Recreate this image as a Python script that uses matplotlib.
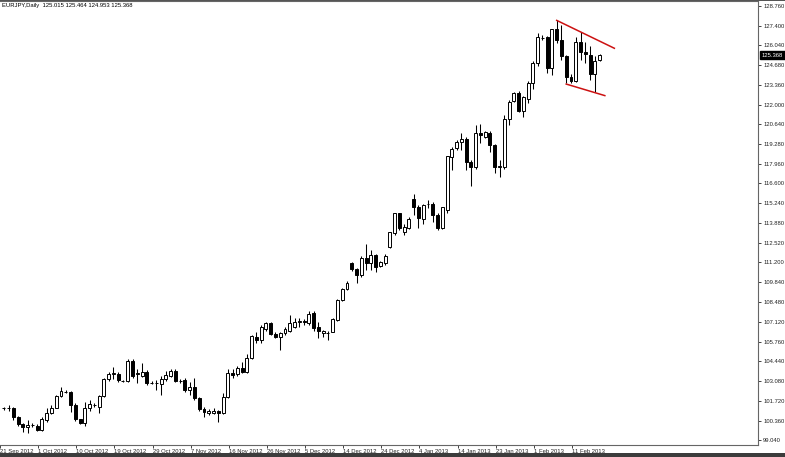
#!/usr/bin/env python3

import matplotlib
matplotlib.use("Agg")
import matplotlib.pyplot as plt
import matplotlib.transforms as mtrans
from matplotlib.patches import Rectangle
import numpy as np

# EURJPY daily bars (left to right)
opens = [101.20, 101.22, 101.21, 100.60, 100.13, 99.91, 100.04, 100.00, 99.72, 100.41,
         100.87, 101.25, 102.07, 102.32, 102.30, 101.43, 100.46, 100.22, 101.25, 101.40,
         101.32, 102.07, 103.21, 103.58, 103.54, 103.10, 103.08, 104.47, 103.58, 103.42,
         103.71, 102.97, 102.91, 102.85, 103.19, 103.44, 103.78, 103.10, 103.15, 102.46,
         102.69, 101.89, 101.16, 100.87, 100.91, 101.02, 100.91, 101.96, 103.60, 103.54,
         103.95, 103.71, 104.63, 106.11, 105.88, 106.62, 107.03, 106.28, 106.11, 106.35,
         106.50, 106.80, 107.13, 107.15, 107.03, 107.71, 106.80, 106.38, 106.37, 106.45,
         107.25, 108.62, 109.35, 111.13, 110.72, 110.33, 111.51, 111.17, 111.70, 110.97,
         111.17, 112.27, 113.23, 114.55, 113.30, 113.57, 115.54, 115.02, 114.17, 115.16,
         115.20, 114.44, 113.57, 114.78, 118.43, 119.01, 119.46, 119.62, 118.09, 117.75,
         120.07, 119.80, 120.07, 119.23, 117.74, 117.75, 120.98, 122.26, 122.77, 121.58,
         122.36, 123.45, 124.82, 126.56, 126.60, 124.48, 127.19, 126.39, 125.32, 123.87,
         123.63, 126.28, 125.60, 125.42, 124.12, 125.015]
highs = [101.30, 101.40, 101.30, 100.70, 100.20, 100.41, 100.20, 100.10, 100.60, 101.20,
         101.40, 102.12, 102.69, 102.45, 102.40, 101.60, 100.50, 101.66, 101.80, 101.60,
         102.12, 103.30, 103.70, 104.06, 103.70, 103.15, 104.55, 104.55, 103.90, 104.33,
         103.80, 103.10, 103.15, 103.42, 103.76, 103.88, 103.90, 103.20, 103.30, 103.03,
         103.26, 102.00, 101.30, 101.15, 101.20, 101.10, 102.28, 103.88, 103.90, 104.10,
         104.40, 104.90, 106.20, 106.45, 106.90, 107.10, 107.10, 106.40, 106.45, 106.80,
         107.60, 107.40, 107.37, 107.30, 107.87, 107.85, 107.14, 106.60, 106.50, 107.40,
         108.70, 109.45, 109.90, 111.20, 110.80, 111.60, 112.43, 112.04, 111.80, 111.30,
         111.80, 113.30, 114.60, 114.60, 113.80, 114.30, 115.88, 115.10, 115.20, 115.47,
         115.30, 114.60, 115.00, 118.50, 119.10, 119.60, 120.03, 119.80, 118.20, 120.60,
         120.67, 120.20, 120.20, 119.30, 118.20, 121.30, 122.30, 122.86, 122.90, 122.60,
         123.60, 125.00, 126.91, 126.75, 126.70, 127.20, 127.76, 127.45, 125.40, 124.10,
         126.62, 126.94, 126.28, 126.00, 125.32, 125.464]
lows = [101.10, 101.05, 100.41, 100.00, 99.61, 99.54, 99.90, 99.65, 99.65, 100.30,
        100.80, 101.20, 101.95, 102.25, 100.98, 100.35, 100.10, 100.00, 101.00, 101.30,
        100.91, 102.00, 103.10, 103.19, 103.00, 103.00, 103.00, 103.30, 102.92, 103.35,
        102.80, 102.85, 102.46, 102.12, 103.10, 103.35, 103.00, 102.95, 102.30, 102.12,
        101.80, 101.00, 100.64, 100.75, 100.80, 100.29, 100.80, 101.90, 103.30, 103.40,
        103.60, 103.60, 104.60, 105.66, 105.66, 106.50, 106.20, 106.00, 105.20, 106.20,
        106.40, 106.70, 106.80, 106.90, 106.90, 106.50, 106.00, 106.11, 105.88, 106.40,
        107.20, 108.55, 109.30, 110.60, 109.80, 110.20, 110.68, 110.68, 110.56, 110.90,
        111.00, 112.20, 113.10, 113.40, 113.07, 113.50, 114.44, 113.57, 113.80, 114.92,
        113.98, 113.40, 113.50, 114.60, 117.52, 118.90, 118.89, 117.52, 116.42, 117.60,
        119.37, 119.70, 118.78, 117.29, 117.02, 117.60, 120.60, 122.20, 121.50, 121.17,
        122.10, 123.04, 124.64, 126.42, 124.14, 124.02, 126.24, 125.05, 123.45, 123.45,
        123.54, 125.02, 124.85, 123.68, 122.88, 124.953]
closes = [101.22, 101.24, 100.64, 100.13, 99.91, 100.07, 100.06, 99.72, 100.46, 100.91,
          101.25, 102.07, 102.39, 102.35, 101.43, 100.46, 100.22, 101.25, 101.48, 101.42,
          102.07, 103.21, 103.54, 103.62, 103.15, 103.06, 104.47, 103.44, 103.62, 103.67,
          102.92, 102.95, 102.93, 103.19, 103.49, 103.78, 103.10, 103.06, 102.46, 102.69,
          101.89, 101.14, 100.93, 101.02, 101.05, 100.87, 101.96, 103.60, 103.49, 103.95,
          103.71, 104.63, 106.16, 105.88, 106.80, 107.03, 106.28, 106.11, 106.35, 106.62,
          107.07, 107.14, 107.15, 107.13, 107.66, 106.68, 106.53, 106.53, 106.39, 107.30,
          108.62, 109.35, 109.81, 110.72, 110.33, 111.51, 111.13, 111.70, 110.90, 111.20,
          111.65, 113.25, 114.55, 113.52, 113.64, 114.17, 114.97, 114.22, 115.13, 115.18,
          114.44, 113.57, 114.97, 118.48, 118.94, 119.46, 119.62, 118.09, 117.75, 120.07,
          119.91, 120.10, 119.23, 117.75, 117.76, 120.98, 122.15, 122.77, 121.58, 122.49,
          123.50, 124.86, 126.64, 126.58, 124.48, 127.14, 126.39, 125.32, 123.88, 123.63,
          126.28, 125.60, 125.44, 124.12, 124.99, 125.368]

date_labels = ["21 Sep 2012", "1 Oct 2012", "10 Oct 2012", "19 Oct 2012", "29 Oct 2012",
               "7 Nov 2012", "16 Nov 2012", "26 Nov 2012", "5 Dec 2012", "14 Dec 2012",
               "24 Dec 2012", "4 Jan 2013", "14 Jan 2013", "23 Jan 2013", "1 Feb 2013",
               "11 Feb 2013"]
price_ticks = [99.04, 100.36, 101.72, 103.08, 104.44, 105.76, 107.12, 108.48, 109.84,
               111.20, 112.52, 113.88, 115.24, 116.60, 117.96, 119.28, 120.64, 122.00,
               123.36, 124.68, 126.04, 127.40, 128.76]

# hand-drawn channel (bar index, price)
upper_line_x = [116, 128.1]
upper_line_y = [127.76, 125.85]
lower_line_x = [118, 126.1]
lower_line_y = [123.40, 122.61]

W, H = 785, 457
fig = plt.figure(figsize=(W / 100, H / 100), dpi=100)
fig.patch.set_facecolor("white")
ax = fig.add_axes([0, 12.5 / H, 757.5 / W, 444.0 / H])

o = np.array(opens)
h = np.array(highs)
l = np.array(lows)
c = np.array(closes)
idx = np.arange(len(o))

ax.vlines(idx, l, h, color="black", linewidth=0.75, zorder=2)
bull = c >= o
body_lo = np.minimum(o, c)
body_h = np.maximum(np.abs(c - o), 0.015)
ax.bar(idx[bull], body_h[bull], bottom=body_lo[bull], width=0.62, color="white",
       edgecolor="black", linewidth=0.7, zorder=3)
ax.bar(idx[~bull], body_h[~bull], bottom=body_lo[~bull], width=0.62, color="black",
       edgecolor="black", linewidth=0.7, zorder=3)

ax.plot(upper_line_x, upper_line_y, color="#cc1111", linewidth=1.1, zorder=4)
ax.plot(lower_line_x, lower_line_y, color="#cc1111", linewidth=1.1, zorder=4)

ax.set_xlim(-0.21, 158.13)
ax.set_ylim(98.73, 129.12)

font = dict(family="Liberation Sans", size=4.2)

ax.yaxis.tick_right()
ax.set_yticks(price_ticks)
ax.set_yticklabels(["%.3f" % p for p in price_ticks], **font)
ax.tick_params(axis="y", direction="out", length=2.5, width=0.6, pad=1.5, colors="#222222")

ax.set_xticks([7.2 + 8 * k for k in range(-1, len(date_labels) - 1)])
ax.set_xticklabels(date_labels, ha="left", **font)
ax.tick_params(axis="x", direction="out", length=2, width=0.6, pad=1.0, colors="#222222")

for side in ["left"]:
    ax.spines[side].set_visible(False)
for side in ["right", "bottom", "top"]:
    ax.spines[side].set_color("#666666")
    ax.spines[side].set_linewidth(0.8)

# current price box
trans = mtrans.blended_transform_factory(ax.transAxes, ax.transData)
ax.text(1.0058, closes[-1], "%.3f" % closes[-1], transform=trans, color="white",
        va="center", ha="left", fontfamily="Liberation Sans", fontsize=4.2,
        bbox=dict(boxstyle="square,pad=0.25", facecolor="black", edgecolor="black"),
        zorder=5, clip_on=False)

fig.text(2 / W, 1 - 5.5 / H,
         "EURJPY,Daily  %.3f %.3f %.3f %.3f" % (opens[-1], highs[-1], lows[-1], closes[-1]),
         va="center", ha="left", color="black", **font)

# window frame bits
fig.patches.append(Rectangle((0, 0), 1, 4.5 / H, transform=fig.transFigure,
                             facecolor="#3c3c3c", edgecolor="none"))
fig.patches.append(Rectangle((0, 1 - 1 / H), 1, 1 / H, transform=fig.transFigure,
                             facecolor="#555555", edgecolor="none"))

fig.savefig("out.png", dpi=100)
